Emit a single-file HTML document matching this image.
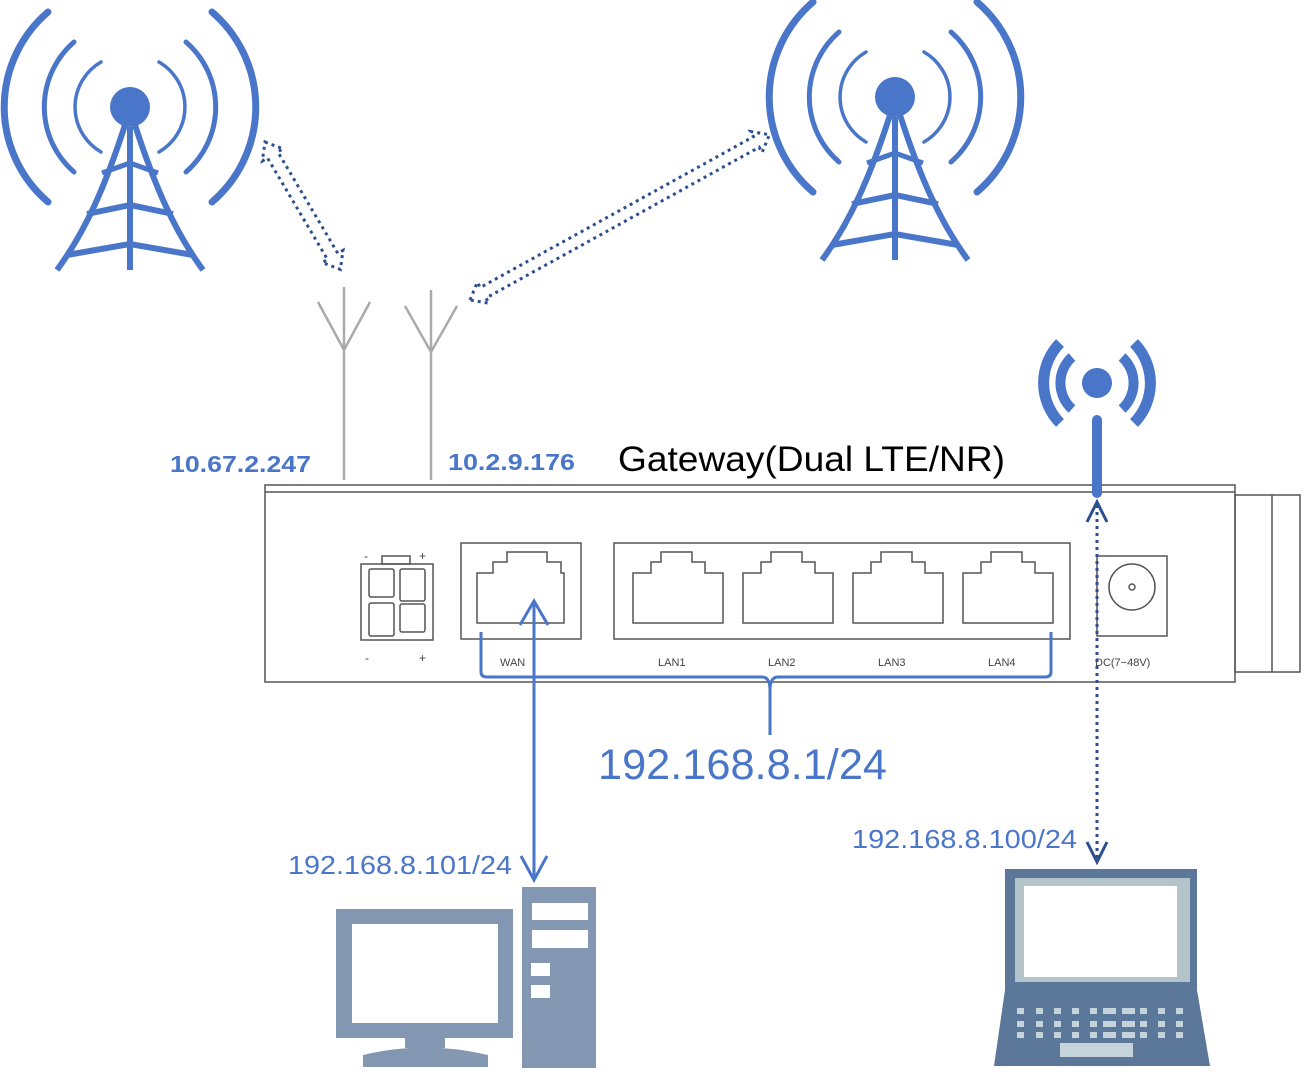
<!DOCTYPE html>
<html><head><meta charset="utf-8"><style>html,body{margin:0;padding:0;background:#fff}svg{display:block}</style></head>
<body>
<svg width="1308" height="1076" viewBox="0 0 1308 1076" xmlns="http://www.w3.org/2000/svg" font-family="Liberation Sans, sans-serif">
<defs>
<g id="tower" fill="none" stroke="#4a76c9" stroke-linecap="round">
  <path d="M-82,-95 A125,125 0 0 0 -82,95" stroke-width="7"/>
  <path d="M82,-95 A125,125 0 0 1 82,95" stroke-width="7"/>
  <path d="M-56,-65 A86,86 0 0 0 -56,65" stroke-width="5"/>
  <path d="M56,-65 A86,86 0 0 1 56,65" stroke-width="5"/>
  <path d="M-29,-45 A52,52 0 0 0 -29,45" stroke-width="3.5"/>
  <path d="M29,-45 A52,52 0 0 1 29,45" stroke-width="3.5"/>
  <circle cx="0" cy="0" r="20" fill="#4a76c9" stroke="none"/>
  <g stroke-linecap="butt" stroke-width="6">
    <path d="M-5,18 C-25,80 -45,125 -73,163"/>
    <path d="M5,18 C25,80 45,125 73,163"/>
    <path d="M-28,66 L0,56 L28,66" stroke-width="5"/>
    <path d="M-43,107 L0,98 L43,107"/>
    <path d="M-63,148 L0,137 L63,148"/>
    <path d="M0,20 L0,163" stroke-width="6"/>
  </g>
</g>
</defs>

<use href="#tower" x="130" y="107"/>
<use href="#tower" x="895" y="97"/>

<!-- dotted double arrows -->
<g fill="none" stroke="#2e4f8f" stroke-width="3" stroke-dasharray="3,4">
  <path transform="translate(265,142) rotate(59.4)" d="M0,0 L15,-12 L15,-6 L133,-6 L133,-12 L148,0 L133,12 L133,6 L15,6 L15,12 Z"/>
  <path transform="translate(470,300) rotate(-28.9)" d="M0,0 L15,-12 L15,-6 L327,-6 L327,-12 L342,0 L327,12 L327,6 L15,6 L15,12 Z"/>
</g>

<!-- grey antennas -->
<g stroke="#aaa" stroke-width="2.5" fill="none">
  <path d="M344,287 L344,480 M318,302 L344,350 L370,302"/>
  <path d="M431,290 L431,480 M405,306 L431,352 L457,306"/>
</g>

<!-- labels -->
<text x="170" y="472" font-size="23" font-weight="bold" fill="#4a76c9" textLength="141" lengthAdjust="spacingAndGlyphs">10.67.2.247</text>
<text x="448" y="470" font-size="23" font-weight="bold" fill="#4a76c9" textLength="127" lengthAdjust="spacingAndGlyphs">10.2.9.176</text>
<text x="618" y="471" font-size="35" fill="#000" textLength="387" lengthAdjust="spacingAndGlyphs">Gateway(Dual LTE/NR)</text>

<!-- gateway body -->
<g fill="none" stroke="#555" stroke-width="1.5">
  <rect x="265" y="485" width="970" height="197" fill="#fff"/>
  <line x1="265" y1="492" x2="1235" y2="492"/>
  <rect x="1235" y="495" width="65" height="177"/>
  <line x1="1272" y1="495" x2="1272" y2="672"/>
  <rect x="361" y="564" width="72" height="76"/>
  <rect x="369" y="569" width="25" height="28" rx="2"/>
  <rect x="400" y="569" width="25" height="32" rx="2"/>
  <rect x="369" y="603" width="25" height="33" rx="2"/>
  <rect x="400" y="604" width="25" height="28" rx="2"/>
  <rect x="382" y="556" width="28" height="8"/>
  <rect x="461" y="543" width="120" height="96"/>
  <path d="M477,623 L477,573 L493,573 L493,562 L507,562 L507,552 L547,552 L547,562 L561,562 L561,573 L564,573 L564,623 Z"/>
  <rect x="614" y="543" width="456" height="96"/>
  <path id="rj" d="M633,623 L633,573 L651,573 L651,562 L661,562 L661,552 L692,552 L692,562 L705,562 L705,573 L723,573 L723,623 Z"/>
  <use href="#rj" x="110"/><use href="#rj" x="220"/><use href="#rj" x="330"/>
  <rect x="1097" y="556" width="70" height="80"/>
  <circle cx="1132" cy="587" r="23"/>
  <circle cx="1132" cy="587" r="3"/>
</g>
<g font-size="12" fill="#444">
  <text x="364" y="560">-</text><text x="419" y="560">+</text>
  <text x="365" y="662">-</text><text x="419" y="662">+</text>
  <text x="500" y="666" font-size="11">WAN</text>
  <text x="658" y="666" font-size="11">LAN1</text>
  <text x="768" y="666" font-size="11">LAN2</text>
  <text x="878" y="666" font-size="11">LAN3</text>
  <text x="988" y="666" font-size="11">LAN4</text>
  <text x="1095" y="666" font-size="11">DC(7−48V)</text>
</g>

<!-- brace -->
<path d="M481,632 L481,672 Q481,677 487,677 L762,677 Q770,677 770,690 L770,735 M770,735 L770,690 Q770,677 778,677 L1045,677 Q1051,677 1051,672 L1051,632" fill="none" stroke="#4a76c9" stroke-width="3"/>
<text x="598" y="779" font-size="43" fill="#4a76c9" textLength="289" lengthAdjust="spacingAndGlyphs">192.168.8.1/24</text>

<!-- WAN arrow -->
<g stroke="#4a76c9" stroke-width="3" fill="none">
  <line x1="534" y1="602" x2="534" y2="880"/>
  <path d="M520,625 L534,601 L548,625"/>
  <path d="M521,856 L534,880 L547,856"/>
</g>
<text x="288" y="874" font-size="26" fill="#4a76c9" textLength="224" lengthAdjust="spacingAndGlyphs">192.168.8.101/24</text>

<!-- wifi icon -->
<g fill="none" stroke="#4a76c9" stroke-width="10">
  <path d="M1072,357 A35,35 0 0 0 1072,409"/>
  <path d="M1122,357 A35,35 0 0 1 1122,409"/>
  <path d="M1060,343 A57,57 0 0 0 1060,423" stroke-width="11"/>
  <path d="M1134,343 A57,57 0 0 1 1134,423" stroke-width="11"/>
</g>
<circle cx="1097" cy="383" r="15" fill="#4a76c9"/>
<line x1="1097" y1="420" x2="1097" y2="493" stroke="#4a76c9" stroke-width="10" stroke-linecap="round"/>

<!-- dotted arrow to laptop -->
<g stroke="#2e4f8f" stroke-width="3" fill="none">
  <line x1="1097" y1="505" x2="1097" y2="860" stroke-dasharray="3,4"/>
  <path d="M1087,522 L1097,502 L1107,522"/>
  <path d="M1087,842 L1097,862 L1107,842"/>
</g>
<text x="852" y="848" font-size="26" fill="#4a76c9" textLength="225" lengthAdjust="spacingAndGlyphs">192.168.8.100/24</text>

<!-- desktop computer -->
<g fill="#8397b2">
  <rect x="336" y="909" width="177" height="129"/>
  <rect x="405" y="1036" width="40" height="12"/>
  <path d="M363,1055 Q425,1040 488,1055 L488,1067 L363,1067 Z"/>
  <rect x="522" y="887" width="74" height="181"/>
</g>
<g fill="#fff">
  <rect x="352" y="924" width="146" height="99"/>
  <rect x="532" y="903" width="56" height="17"/>
  <rect x="532" y="930" width="56" height="18"/>
  <rect x="531" y="963" width="19" height="13"/>
  <rect x="531" y="985" width="19" height="13"/>
</g>

<!-- laptop -->
<rect x="1005" y="869" width="192" height="122" fill="#5b7799"/>
<path d="M1005,990 L1197,990 L1210,1066 L994,1066 Z" fill="#5b7799"/>
<rect x="1015" y="878" width="175" height="104" fill="#b3c4cb"/>
<rect x="1024" y="886" width="153" height="91" fill="#fff"/>
<g fill="#c5d3da">
  <g id="krow">
    <rect x="1017" y="1008" width="7" height="6"/><rect x="1036" y="1008" width="7" height="6"/><rect x="1054" y="1008" width="7" height="6"/><rect x="1072" y="1008" width="7" height="6"/><rect x="1090" y="1008" width="7" height="6"/><rect x="1103" y="1008" width="13" height="6"/><rect x="1122" y="1008" width="13" height="6"/><rect x="1140" y="1008" width="7" height="6"/><rect x="1158" y="1008" width="7" height="6"/><rect x="1176" y="1008" width="7" height="6"/>
  </g>
  <use href="#krow" y="13"/>
  <use href="#krow" y="24"/>
  <rect x="1060" y="1043" width="73" height="14"/>
</g>
</svg>
</body></html>
